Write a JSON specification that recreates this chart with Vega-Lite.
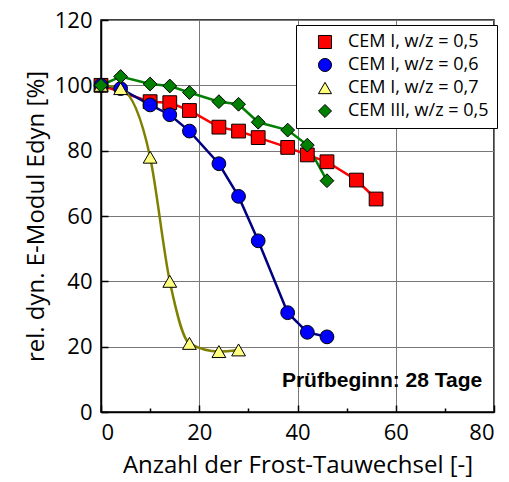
{
  "$schema": "https://vega.github.io/schema/vega-lite/v6.json",
  "width": 393,
  "height": 392,
  "autosize": "none",
  "padding": {"left": 101, "top": 20, "right": 15, "bottom": 70},
  "config": {
    "view": {"stroke": "black", "strokeWidth": 1.5},
    "font": "Open Sans",
    "axis": {
      "domainColor": "black", "domainWidth": 1.5,
      "tickColor": "black", "tickWidth": 1.5,
      "gridColor": "#777777", "gridWidth": 1,
      "labelColor": "black", "labelFontSize": 22, "labelFont": "Open Sans",
      "titleColor": "black", "titleFontSize": 24, "titleFontWeight": "normal", "titleFont": "Open Sans"
    },
    "legend": {
      "strokeColor": "black", "fillColor": "white", "padding": 8,
      "labelFontSize": 18, "labelColor": "black", "labelFont": "Open Sans",
      "symbolSize": 170, "symbolStrokeWidth": 1,
      "rowPadding": 5, "labelOffset": 14, "symbolOffset": 12
    }
  },
  "resolve": {"scale": {"color": "independent"}, "legend": {"color": "independent"}},
  "datasets": {
    "pts": [
      {"series": "CEM I, w/z = 0,5", "n": 0, "e": 100},
      {"series": "CEM I, w/z = 0,5", "n": 10, "e": 95},
      {"series": "CEM I, w/z = 0,5", "n": 14, "e": 94.7},
      {"series": "CEM I, w/z = 0,5", "n": 18, "e": 92.3},
      {"series": "CEM I, w/z = 0,5", "n": 24, "e": 87.2},
      {"series": "CEM I, w/z = 0,5", "n": 28, "e": 86},
      {"series": "CEM I, w/z = 0,5", "n": 32, "e": 84},
      {"series": "CEM I, w/z = 0,5", "n": 38, "e": 81},
      {"series": "CEM I, w/z = 0,5", "n": 42, "e": 78.7},
      {"series": "CEM I, w/z = 0,5", "n": 46, "e": 76.6},
      {"series": "CEM I, w/z = 0,5", "n": 52, "e": 71},
      {"series": "CEM I, w/z = 0,5", "n": 56, "e": 65.2},
      {"series": "CEM I, w/z = 0,6", "n": 0, "e": 100},
      {"series": "CEM I, w/z = 0,6", "n": 4, "e": 99},
      {"series": "CEM I, w/z = 0,6", "n": 10, "e": 94},
      {"series": "CEM I, w/z = 0,6", "n": 14, "e": 91},
      {"series": "CEM I, w/z = 0,6", "n": 18, "e": 86},
      {"series": "CEM I, w/z = 0,6", "n": 24, "e": 76},
      {"series": "CEM I, w/z = 0,6", "n": 28, "e": 66},
      {"series": "CEM I, w/z = 0,6", "n": 32, "e": 52.4},
      {"series": "CEM I, w/z = 0,6", "n": 38, "e": 30.4},
      {"series": "CEM I, w/z = 0,6", "n": 42, "e": 24.4},
      {"series": "CEM I, w/z = 0,6", "n": 46, "e": 23},
      {"series": "CEM I, w/z = 0,7", "n": 0, "e": 100},
      {"series": "CEM I, w/z = 0,7", "n": 4, "e": 99},
      {"series": "CEM I, w/z = 0,7", "n": 10, "e": 78},
      {"series": "CEM I, w/z = 0,7", "n": 14, "e": 40},
      {"series": "CEM I, w/z = 0,7", "n": 18, "e": 21},
      {"series": "CEM I, w/z = 0,7", "n": 24, "e": 18.5},
      {"series": "CEM I, w/z = 0,7", "n": 28, "e": 19},
      {"series": "CEM III, w/z = 0,5", "n": 0, "e": 100},
      {"series": "CEM III, w/z = 0,5", "n": 4, "e": 102.7},
      {"series": "CEM III, w/z = 0,5", "n": 10, "e": 100.4},
      {"series": "CEM III, w/z = 0,5", "n": 14, "e": 99.8},
      {"series": "CEM III, w/z = 0,5", "n": 18, "e": 97.8},
      {"series": "CEM III, w/z = 0,5", "n": 24, "e": 95},
      {"series": "CEM III, w/z = 0,5", "n": 28, "e": 94.2},
      {"series": "CEM III, w/z = 0,5", "n": 32, "e": 88.7},
      {"series": "CEM III, w/z = 0,5", "n": 38, "e": 86.3},
      {"series": "CEM III, w/z = 0,5", "n": 42, "e": 81.7},
      {"series": "CEM III, w/z = 0,5", "n": 46, "e": 70.8}
    ],
    "note": [{"n": 77.6, "e": 9.6, "label": "Prüfbeginn: 28 Tage"}]
  },
  "layer": [
    {
      "data": {"name": "pts"},
      "transform": [{"filter": "datum.series !== 'CEM I, w/z = 0,7'"}],
      "mark": {"type": "line", "strokeWidth": 2.5},
      "encoding": {
        "x": {
          "field": "n", "type": "quantitative",
          "scale": {"domain": [0, 80], "nice": false},
          "axis": {
            "title": "Anzahl der Frost-Tauwechsel [-]",
            "values": [0, 10, 20, 30, 40, 50, 60, 70, 80],
            "labelExpr": "datum.value % 20 === 0 ? datum.label : ''",
            "tickSize": {"condition": {"test": "datum.value % 20 === 0", "value": -7}, "value": -4},
            "gridOpacity": {"condition": {"test": "datum.value % 20 === 0", "value": 1}, "value": 0},
            "labelPadding": 17,
            "titlePadding": 10
          }
        },
        "y": {
          "field": "e", "type": "quantitative",
          "scale": {"domain": [0, 120], "nice": false},
          "axis": {
            "title": "rel. dyn. E-Modul Edyn [%]",
            "values": [0, 10, 20, 30, 40, 50, 60, 70, 80, 90, 100, 110, 120],
            "labelExpr": "datum.value % 20 === 0 ? datum.label : ''",
            "tickSize": {"condition": {"test": "datum.value % 20 === 0", "value": -7}, "value": -4},
            "gridOpacity": {"condition": {"test": "datum.value % 20 === 0", "value": 1}, "value": 0},
            "labelPadding": 16,
            "titlePadding": 6
          }
        },
        "color": {
          "field": "series", "type": "nominal",
          "scale": {
            "domain": ["CEM I, w/z = 0,5", "CEM I, w/z = 0,6", "CEM I, w/z = 0,7", "CEM III, w/z = 0,5"],
            "range": ["#ff0000", "#000080", "#808000", "#008000"]
          },
          "legend": null
        }
      }
    },
    {
      "data": {"name": "pts"},
      "transform": [{"filter": "datum.series === 'CEM I, w/z = 0,7'"}],
      "mark": {"type": "line", "strokeWidth": 2.5, "interpolate": "monotone", "color": "#808000"},
      "encoding": {
        "x": {"field": "n", "type": "quantitative"},
        "y": {"field": "e", "type": "quantitative"}
      }
    },
    {
      "data": {"name": "pts"},
      "mark": {"type": "point", "filled": true, "strokeWidth": 1, "opacity": 1, "size": 190},
      "encoding": {
        "x": {"field": "n", "type": "quantitative"},
        "y": {"field": "e", "type": "quantitative"},
        "fill": {
          "field": "series", "type": "nominal",
          "scale": {
            "domain": ["CEM I, w/z = 0,5", "CEM I, w/z = 0,6", "CEM I, w/z = 0,7", "CEM III, w/z = 0,5"],
            "range": ["#ff0000", "#0000ff", "#ffff80", "#008000"]
          },
          "legend": {"title": null, "orient": "none", "legendX": 195, "legendY": 5}
        },
        "stroke": {
          "field": "series", "type": "nominal",
          "scale": {
            "domain": ["CEM I, w/z = 0,5", "CEM I, w/z = 0,6", "CEM I, w/z = 0,7", "CEM III, w/z = 0,5"],
            "range": ["#000000", "#000000", "#000000", "#000000"]
          },
          "legend": {"title": null, "orient": "none", "legendX": 195, "legendY": 5}
        },
        "shape": {
          "field": "series", "type": "nominal",
          "scale": {
            "domain": ["CEM I, w/z = 0,5", "CEM I, w/z = 0,6", "CEM I, w/z = 0,7", "CEM III, w/z = 0,5"],
            "range": ["square", "circle", "triangle-up", "diamond"]
          },
          "legend": {"title": null, "orient": "none", "legendX": 195, "legendY": 5}
        }
      }
    },
    {
      "data": {"name": "note"},
      "mark": {"type": "text", "align": "right", "baseline": "middle", "font": "Liberation Sans", "fontWeight": "bold", "fontSize": 21, "color": "black"},
      "encoding": {
        "x": {"field": "n", "type": "quantitative"},
        "y": {"field": "e", "type": "quantitative"},
        "text": {"field": "label"}
      }
    }
  ]
}
